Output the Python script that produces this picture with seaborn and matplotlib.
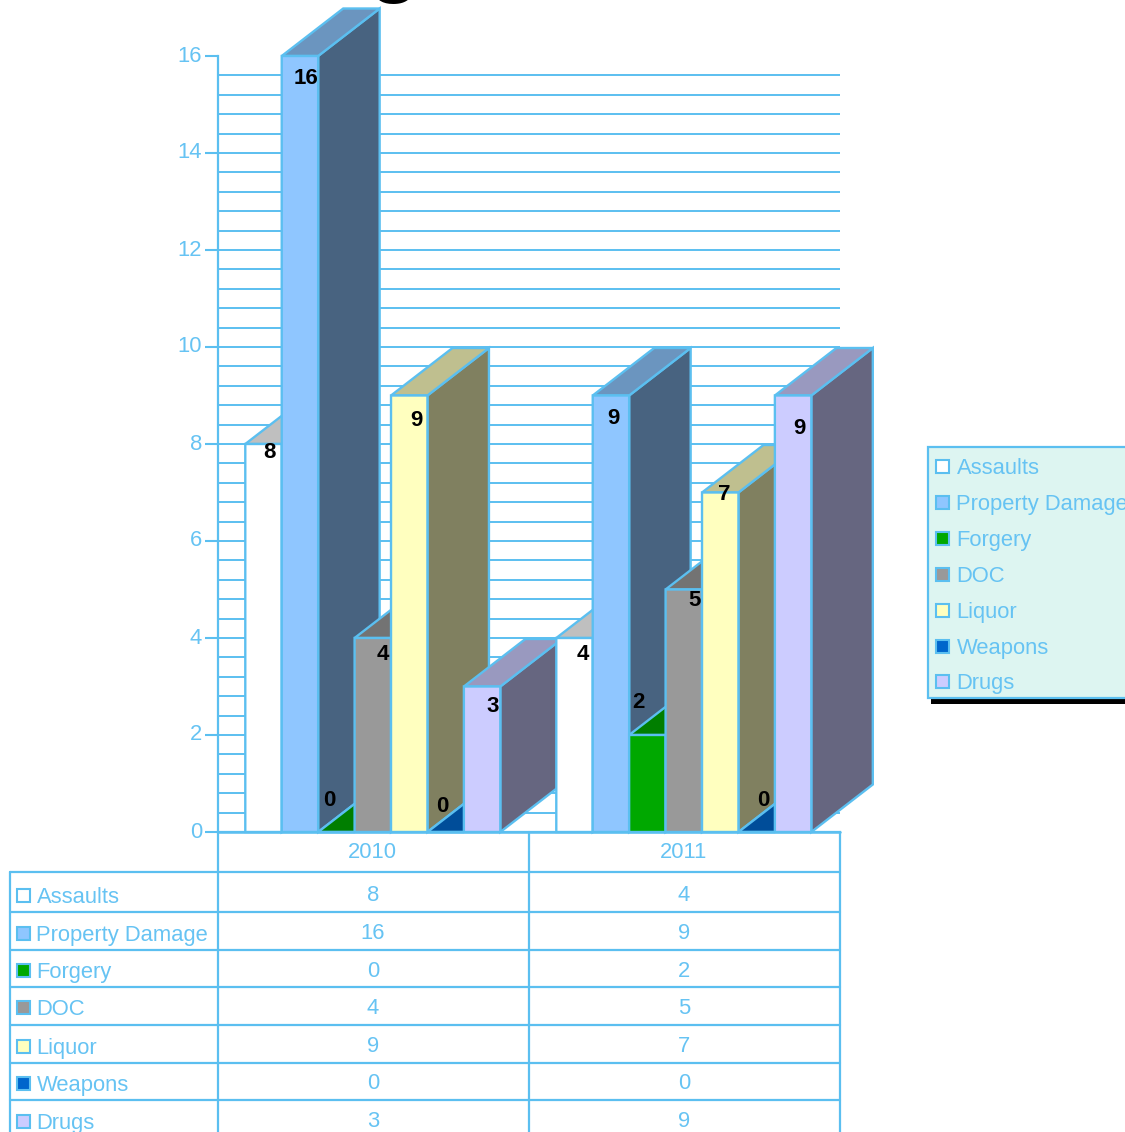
import pandas as pd
import matplotlib.pyplot as plt
import numpy as np
import seaborn as sns
from matplotlib.colors import to_rgb
from matplotlib.patches import Polygon, Rectangle
from matplotlib.transforms import ScaledTranslation

years = ['2010', '2011']
crimes = ['Assaults', 'Property Damage', 'Forgery', 'DOC', 'Liquor', 'Weapons', 'Drugs']
counts_2010 = [8, 16, 0, 4, 9, 0, 3]
counts_2011 = [4, 9, 2, 5, 7, 0, 9]
colors = ['#FFFFFF', '#8FC6FF', '#00A800', '#999999', '#FFFFBF', '#0066CC', '#CCCCFF']

LINE = '#5BBFF0'
TEXT = '#66C3F3'
FONT = 15.8
W, H = 1125, 1132

# pixel nudges for the value labels, from bar centre / bar top
label_nudge = {
    '2010': [(6, 6), (6, 20), (-7, -34), (10, 14), (7, 23), (-3, -28), (11, 17)],
    '2011': [(8, 14), (3, 20), (-9, -35), (11, 8), (4, 0), (7, -34), (6, 30)],
}

sns.set_style('white')
plt.rcParams['font.family'] = ['Liberation Sans', 'DejaVu Sans']
plt.rcParams['font.size'] = FONT

df = pd.DataFrame({
    'Year': [y for y in years for _ in crimes],
    'Crime': crimes * 2,
    'Count': counts_2010 + counts_2011,
})

fig = plt.figure(figsize=(W / 100, H / 100), dpi=100)
ax = fig.add_axes([218 / W, (H - 832) / H, 622 / W, 776 / H])

sns.barplot(data=df, x='Year', y='Count', hue='Crime', hue_order=crimes, order=years,
            palette=colors, saturation=1, width=0.82, dodge=True, legend=False,
            edgecolor=LINE, linewidth=1.7, ax=ax)

ax.set_xlim(-0.5, 1.5)
ax.set_ylim(0, 16)
ax.set_xlabel('')
ax.set_ylabel('')
ax.set_xticks([])

# grid
ax.set_yticks(np.arange(0, 17, 2))
ax.set_yticks(np.arange(0, 16, 0.4), minor=True)
ax.tick_params(axis='y', which='major', length=9.4, width=1.5, color=LINE,
               labelcolor=TEXT, labelsize=FONT, pad=2, left=True)
ax.tick_params(axis='y', which='minor', length=0)
ax.set_axisbelow(True)
ax.grid(True, axis='y', which='both', color=LINE, linewidth=1.4)
ax.yaxis.get_gridlines()[-1].set_visible(False)
for side in ['top', 'right']:
    ax.spines[side].set_visible(False)
for side in ['left', 'bottom']:
    ax.spines[side].set_color(LINE)
    ax.spines[side].set_linewidth(1.6)

# tick labels sit a little above their ticks
lift = ScaledTranslation(0, 2.5 / 100, fig.dpi_scale_trans)
for label in ax.get_yticklabels():
    label.set_transform(label.get_transform() + lift)

# fake 3d depth, in data units
depth_x = 61.5 / 311
depth_y = 47.5 / 48.5
bar_shift = 0.7 / 311


def shade(color, k):
    return tuple(c * k for c in to_rgb(color))


bars = []
for c, color in zip(ax.containers, colors):
    for bar in c:
        bar.set_x(bar.get_x() - bar_shift)
        bars.append((bar.get_x(), bar, color))
bars.sort(key=lambda b: b[0])

z = 3
for x0, bar, color in bars:
    x1 = x0 + bar.get_width()
    h = bar.get_height()
    side = Polygon([(x1, 0), (x1 + depth_x, depth_y), (x1 + depth_x, h + depth_y), (x1, h)],
                   facecolor=shade(color, 0.5), edgecolor=LINE, linewidth=1.7,
                   clip_on=False, zorder=z)
    top = Polygon([(x0, h), (x1, h), (x1 + depth_x, h + depth_y), (x0 + depth_x, h + depth_y)],
                  facecolor=shade(color, 0.75), edgecolor=LINE, linewidth=1.7,
                  clip_on=False, zorder=z + 0.1)
    ax.add_patch(side)
    ax.add_patch(top)
    bar.set_zorder(z + 0.2)
    bar.set_clip_on(False)
    bar.set_snap(False)
    z += 1

# value labels
for i, year in enumerate(years):
    for j, crime in enumerate(crimes):
        bar = ax.containers[j][i]
        nx, ny = label_nudge[year][j]
        ax.annotate(str(int(bar.get_height())),
                    (bar.get_x() + bar.get_width() / 2, bar.get_height()),
                    xytext=(nx, -ny), textcoords='offset pixels', ha='center', va='center_baseline',
                    fontsize=16, fontweight='bold', color='black', zorder=100,
                    annotation_clip=False)

# overlay in pixels for the data table, legend box and the cut off title
over = fig.add_axes([0, 0, 1, 1])
over.set_xlim(0, W)
over.set_ylim(H, 0)
over.axis('off')
over.patch.set_alpha(0)

over.text(394, -13, 'g', fontsize=60, fontweight='bold', color='black', ha='center', va='baseline')

row_lines = [872, 912, 949.5, 987, 1025, 1062.5, 1100]
row_value_y = [893, 931, 969, 1006, 1044, 1081, 1119]
row_label_y = [895, 933, 970, 1007, 1046, 1083, 1121]
col_x = [218, 529, 840]
col_mid = [373, 684]

for y in row_lines:
    over.plot([10, 840], [y, y], color=LINE, lw=1.6, clip_on=False)
over.plot([10, 10], [872, H + 2], color=LINE, lw=1.6)
for x in col_x:
    over.plot([x, x], [832, H + 2], color=LINE, lw=1.6)
over.plot([218, 840], [832, 832], color=LINE, lw=1.8)

for x, year in zip(col_mid, years):
    over.text(x - 0.5, 850, year, color=TEXT, fontsize=FONT, ha='center', va='center_baseline')

for j, crime in enumerate(crimes):
    over.add_patch(Rectangle((17, row_label_y[j] - 6.5), 13, 13, facecolor=colors[j],
                             edgecolor=LINE, linewidth=1.5))
    over.text(36.5, row_label_y[j], crime, color=TEXT, fontsize=FONT, ha='left', va='center_baseline')
    over.text(col_mid[0], row_value_y[j], str(counts_2010[j]), color=TEXT, fontsize=FONT,
              ha='center', va='center_baseline')
    over.text(col_mid[1], row_value_y[j], str(counts_2011[j]), color=TEXT, fontsize=FONT,
              ha='center', va='center_baseline')

# legend box runs off the right edge
over.add_patch(Rectangle((931, 450), 260, 254, facecolor='black', edgecolor='none', zorder=5))
over.add_patch(Rectangle((928, 447), 260, 251, facecolor='#DDF5F1', edgecolor=LINE,
                         linewidth=1.6, zorder=6))
legend_y = [466, 502, 538, 574, 610, 646, 681]
for j, crime in enumerate(crimes):
    over.add_patch(Rectangle((936, legend_y[j] - 6.5), 13, 13, facecolor=colors[j],
                             edgecolor=LINE, linewidth=1.5, zorder=7))
    over.text(956.5, legend_y[j], crime, color=TEXT, fontsize=FONT, ha='left',
              va='center_baseline', zorder=7)

plt.savefig('out.png', dpi=100)
plt.close()
